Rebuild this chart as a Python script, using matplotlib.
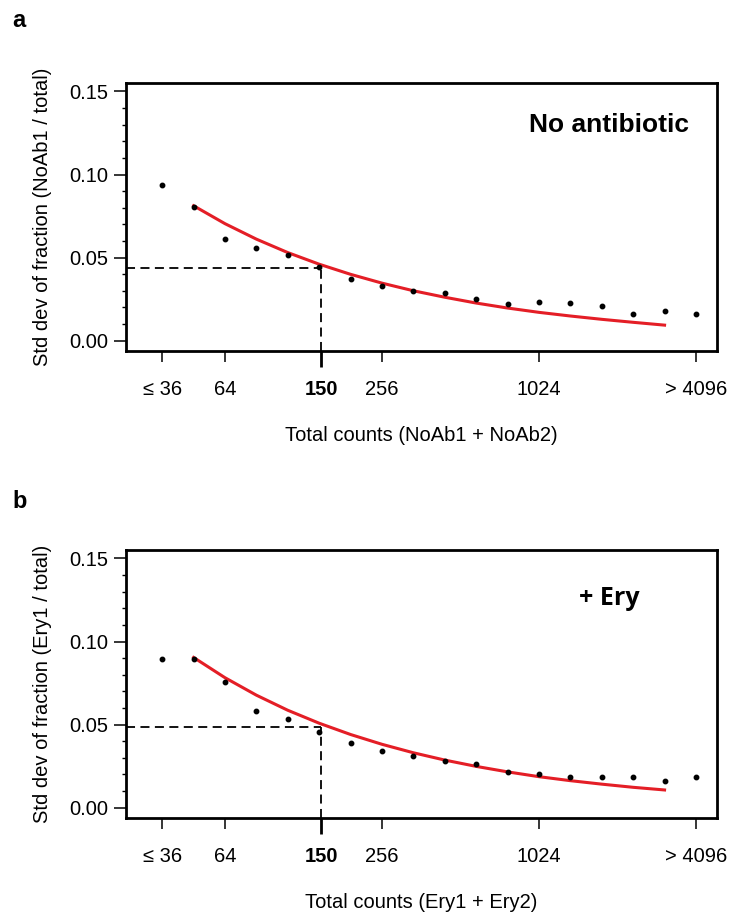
import matplotlib
matplotlib.use('Agg')
import matplotlib.pyplot as plt
from matplotlib.ticker import FixedLocator, MultipleLocator, NullLocator

plt.rcParams['font.family'] = ['Liberation Sans', 'DejaVu Sans']

# bin centres (total counts), log2 spaced
counts = [36.8, 48.5, 64, 84.4, 111.4, 147, 194, 256, 337.8, 445.7,
          588.1, 776, 1024, 1351, 1783, 2353, 3104, 4096]

# panel a: no antibiotic
sd_noab = [0.0935, 0.0802, 0.0609, 0.0557, 0.0518, 0.0441, 0.0372, 0.0330, 0.0300,
           0.0285, 0.0249, 0.0221, 0.0235, 0.0229, 0.0206, 0.0162, 0.0180, 0.0162]
fit_noab = [0.0812, 0.0704, 0.0611, 0.0530, 0.0460, 0.0399, 0.0346, 0.0300,
            0.0261, 0.0226, 0.0196, 0.0170, 0.0148, 0.0128, 0.0110, 0.0093]

# panel b: + Ery
sd_ery = [0.0892, 0.0894, 0.0755, 0.0581, 0.0535, 0.0453, 0.0389, 0.0343, 0.0309,
          0.0281, 0.0261, 0.0214, 0.0204, 0.0184, 0.0182, 0.0186, 0.0160, 0.0182]
fit_ery = [0.0904, 0.0782, 0.0677, 0.0586, 0.0508, 0.0440, 0.0381, 0.0330,
           0.0286, 0.0248, 0.0215, 0.0186, 0.0162, 0.0141, 0.0122, 0.0106]

cutoff = 150
level_noab = 0.0435
level_ery = 0.0486

xtick_vals = [36.8, 64, 150, 256, 1024, 4096]
xtick_labels = ['\u2264 36', '64', '150', '256', '1024', '> 4096']
ytick_vals = [0.00, 0.05, 0.10, 0.15]

RED = '#e41e26'

fig = plt.figure(figsize=(7.30, 9.18), dpi=100)

panels = [
    (0.6176, 'a', sd_noab, fit_noab, level_noab, 'No antibiotic',
     'Std dev of fraction (NoAb1 / total)', 'Total counts (NoAb1 + NoAb2)',
     0.978, 'Liberation Sans', 19, 0.815),
    (0.1089, 'b', sd_ery, fit_ery, level_ery, '+ Ery',
     'Std dev of fraction (Ery1 / total)', 'Total counts (Ery1 + Ery2)',
     0.454, 'Open Sans', 18, 0.793),
]

for (bottom, tag, sd, fit, level, note, ylab, xlab,
     tag_y, note_font, note_size, note_y) in panels:
    ax = fig.add_axes([0.1726, bottom, 0.8096, 0.2925])
    ax.set_xscale('log', base=2)
    ax.set_xlim(26.7, 4932)
    ax.set_ylim(-0.0063, 0.1554)

    ax.plot(counts, sd, 'o', color='black', markersize=3.2, zorder=3)
    ax.plot(counts[1:17], fit, color=RED, lw=2.2, zorder=2)

    x0 = ax.get_xlim()[0]
    y0 = ax.get_ylim()[0]
    ax.plot([x0, cutoff], [level, level], color='black', lw=1.3, dashes=(5, 3), zorder=1)
    ax.plot([cutoff, cutoff], [y0, level], color='black', lw=1.3, dashes=(5, 3), zorder=1)

    ax.xaxis.set_major_locator(FixedLocator(xtick_vals))
    ax.xaxis.set_minor_locator(NullLocator())
    ax.set_xticklabels(xtick_labels)
    for lbl in ax.get_xticklabels():
        if lbl.get_text() == '150':
            lbl.set_fontweight('bold')
    ax.yaxis.set_major_locator(FixedLocator(ytick_vals))
    ax.yaxis.set_minor_locator(MultipleLocator(0.01))
    ax.set_yticklabels(['%.2f' % v for v in ytick_vals])

    ax.tick_params(axis='x', which='major', length=8, width=1.1, pad=13, labelsize=14.5)
    ax.tick_params(axis='y', which='major', length=9, width=1.1, pad=3.5, labelsize=14.5)
    ax.tick_params(axis='y', which='minor', length=3, width=1.0)
    # the 150 cutoff tick is drawn heavier
    t150 = ax.xaxis.get_major_ticks()[xtick_vals.index(cutoff)]
    t150.tick1line.set_markersize(11.5)
    t150.tick1line.set_markeredgewidth(2.0)
    for sp in ax.spines.values():
        sp.set_linewidth(2.0)

    ax.set_ylabel(ylab, fontsize=14.5)
    ax.yaxis.set_label_coords(-0.125, 0.5)
    ax.set_xlabel(xlab, fontsize=14.5)
    ax.xaxis.set_label_coords(0.5, -0.28)

    ax.text(0.817, note_y, note, transform=ax.transAxes, ha='center', va='baseline',
            fontsize=note_size, fontweight='bold', family=[note_font, 'DejaVu Sans'])
    fig.text(0.0165, tag_y, tag, fontsize=17, fontweight='bold', ha='left', va='center')

fig.savefig('out.png', dpi=100)
